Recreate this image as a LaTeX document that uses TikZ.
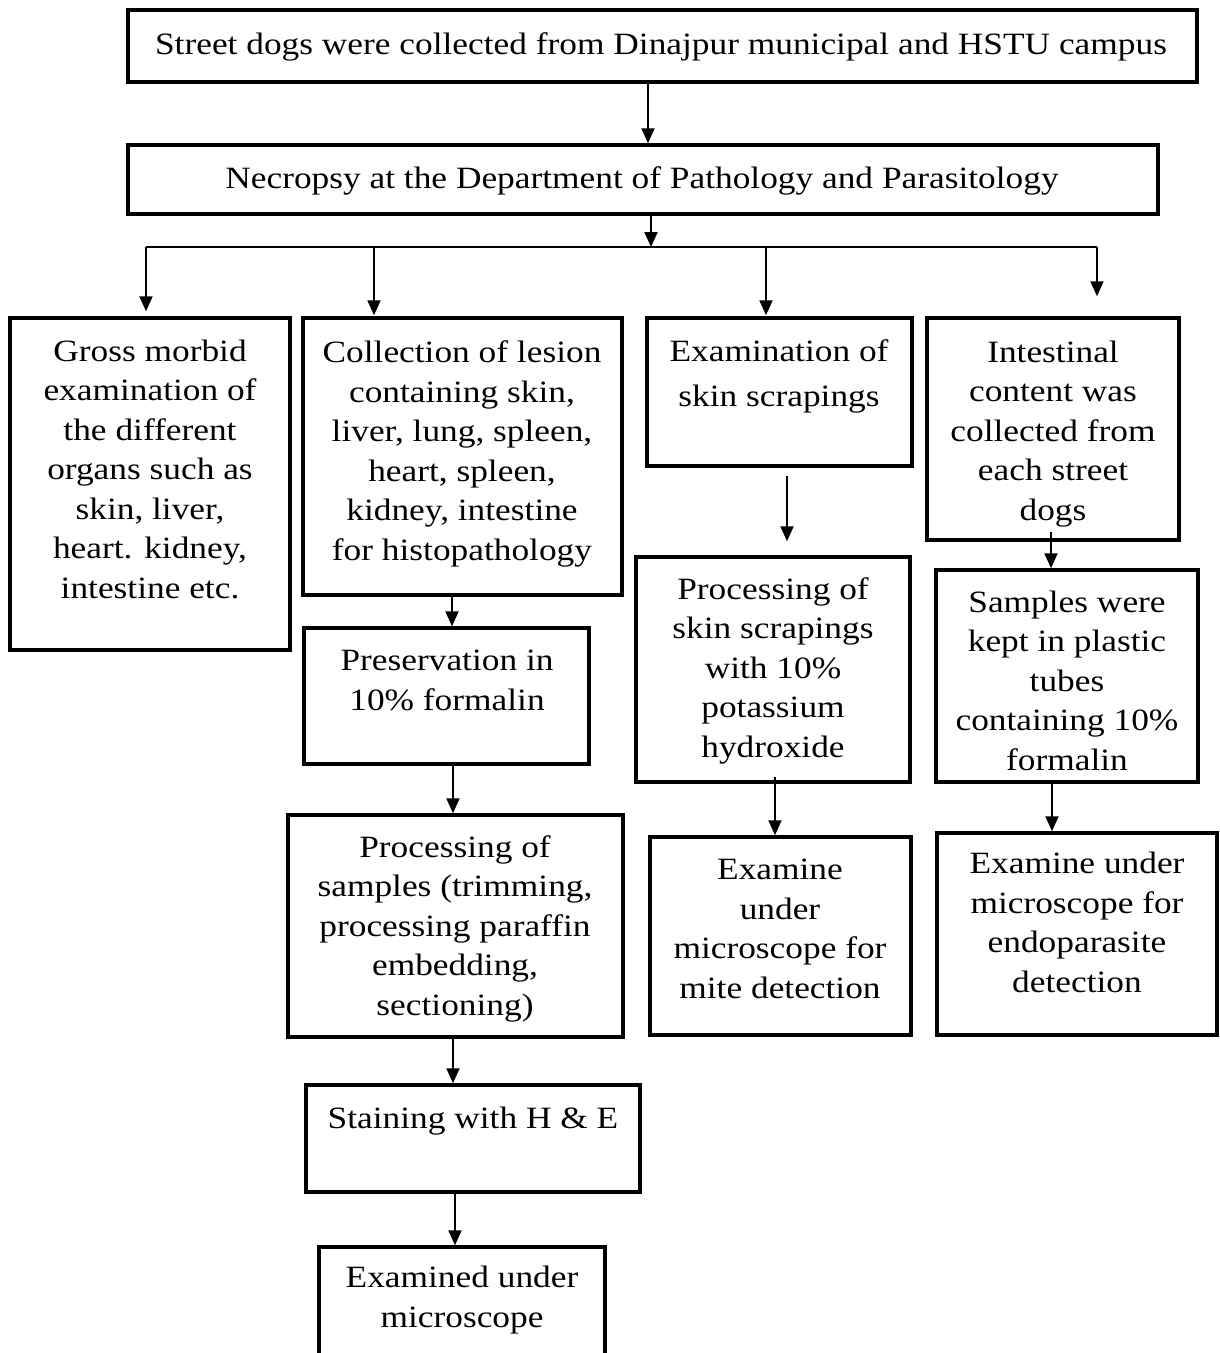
\documentclass[tikz,border=0pt]{standalone}
\usepackage{fontspec}
\setmainfont[FakeStretch=1.14]{Liberation Serif}
\usetikzlibrary{fit,arrows.meta,calc}
\begin{document}
\begin{tikzpicture}[x=1pt,y=-1pt,
  box/.style={draw=black, line width=3.5pt, inner sep=0pt},
  txt/.style={align=center, inner sep=0pt, anchor=base, font=\fontsize{31}{39.5}\selectfont},
  arr/.style={line width=2pt, -{Triangle[length=15pt,width=13pt]}},
  bus/.style={line width=2pt}
]
\useasboundingbox (0,0) rectangle (1220,1353);
\fill[white] (0,0) rectangle (1220,1353);
\clip (0,0) rectangle (1220,1353);

% boxes
\node[box, fit={(128,10) (1197,82)}] (top) {};
\node[box, fit={(128,145) (1158,214)}] (nec) {};
\node[box, fit={(10,318) (290,650)}] (A) {};
\node[box, fit={(303,318) (622,595)}] (B) {};
\node[box, fit={(647,318) (912,466)}] (C) {};
\node[box, fit={(927,318) (1179,540)}] (D) {};
\node[box, fit={(636,557) (910,782)}] (E) {};
\node[box, fit={(936,570) (1198,782)}] (F) {};
\node[box, fit={(304,628) (589,764)}] (P) {};
\node[box, fit={(288,815) (623,1037)}] (Q) {};
\node[box, fit={(650,837) (911,1035)}] (G) {};
\node[box, fit={(937,833) (1217,1035)}] (H) {};
\node[box, fit={(306,1085) (640,1192)}] (S) {};
\node[box, fit={(319,1247) (605,1370)}] (T) {};

% texts (anchor = baseline of the last line)
\node[txt] (topt) at (661,54) {Street dogs were collected from Dinajpur municipal and HSTU campus};
\node[txt] (nect) at (642,188) {Necropsy at the Department of Pathology and Parasitology};
\node[txt] (At) at (150,598) {Gross morbid\\examination of\\the different\\organs such as\\skin, liver,\\heart. kidney,\\intestine etc.};
\node[txt] (Bt) at (462,560) {Collection of lesion\\containing skin,\\liver, lung, spleen,\\heart, spleen,\\kidney, intestine\\for histopathology};
\node[txt] (Ct) at (779,406) {Examination of\\[5pt]skin scrapings};
\node[txt] (Dt) at (1053,520) {Intestinal\\content was\\collected from\\each street\\dogs};
\node[txt] (Et) at (773,757) {Processing of\\skin scrapings\\with 10\%\\potassium\\hydroxide};
\node[txt] (Ft) at (1067,770) {Samples were\\kept in plastic\\tubes\\containing 10\%\\formalin};
\node[txt] (Pt) at (447,710) {Preservation in\\10\% formalin};
\node[txt] (Qt) at (455,1015) {Processing of\\samples (trimming,\\processing paraffin\\embedding,\\sectioning)};
\node[txt] (Gt) at (780,998) {Examine\\under\\microscope for\\mite detection};
\node[txt] (Ht) at (1077,992) {Examine under\\microscope for\\endoparasite\\detection};
\node[txt] (St) at (473,1128) {Staining with H \& E};
\node[txt] (Tt) at (462,1327) {Examined under\\microscope};

% connector x positions
\coordinate (x1) at (648,0);
\coordinate (x2) at (651,0);
\coordinate (busL) at (146,247);
\coordinate (busR) at (1097,247);
\coordinate (busB) at (374,247);
\coordinate (busC) at (766,247);
\coordinate (bus) at (651,247);
\coordinate (xBP) at (452,0);
\coordinate (xPQ) at (453,0);
\coordinate (xQS) at (453,0);
\coordinate (xST) at (455,0);
\coordinate (xCE) at (787,0);
\coordinate (xDF) at (1051,0);
\coordinate (xEG) at (775,0);
\coordinate (xFH) at (1052,0);

% connectors
\draw[arr] (top.south -| x1) -- (nec.north -| x1);
\draw[arr] (nec.south -| x2) -- (bus);
\draw[bus] (busL) -- (busR);
\draw[arr, shorten >=5pt] (busL) -- (busL |- A.north);
\draw[arr, shorten >=1pt] (busB) -- (busB |- B.north);
\draw[arr, shorten >=1pt] (busC) -- (busC |- C.north);
\draw[arr, shorten >=20pt] (busR) -- (busR |- D.north);
\draw[arr] (B.south -| xBP) -- (P.north -| xBP);
\draw[arr] (P.south -| xPQ) -- (Q.north -| xPQ);
\draw[arr] (Q.south -| xQS) -- (S.north -| xQS);
\draw[arr] (S.south -| xST) -- (T.north -| xST);
\draw[arr, shorten <=8pt, shorten >=14pt] (C.south -| xCE) -- (E.north -| xCE);
\draw[arr, shorten <=-10pt] (D.south -| xDF) -- (F.north -| xDF);
\draw[arr, shorten <=-7pt] (E.south -| xEG) -- (G.north -| xEG);
\draw[arr] (F.south -| xFH) -- (H.north -| xFH);
\end{tikzpicture}
\end{document}
